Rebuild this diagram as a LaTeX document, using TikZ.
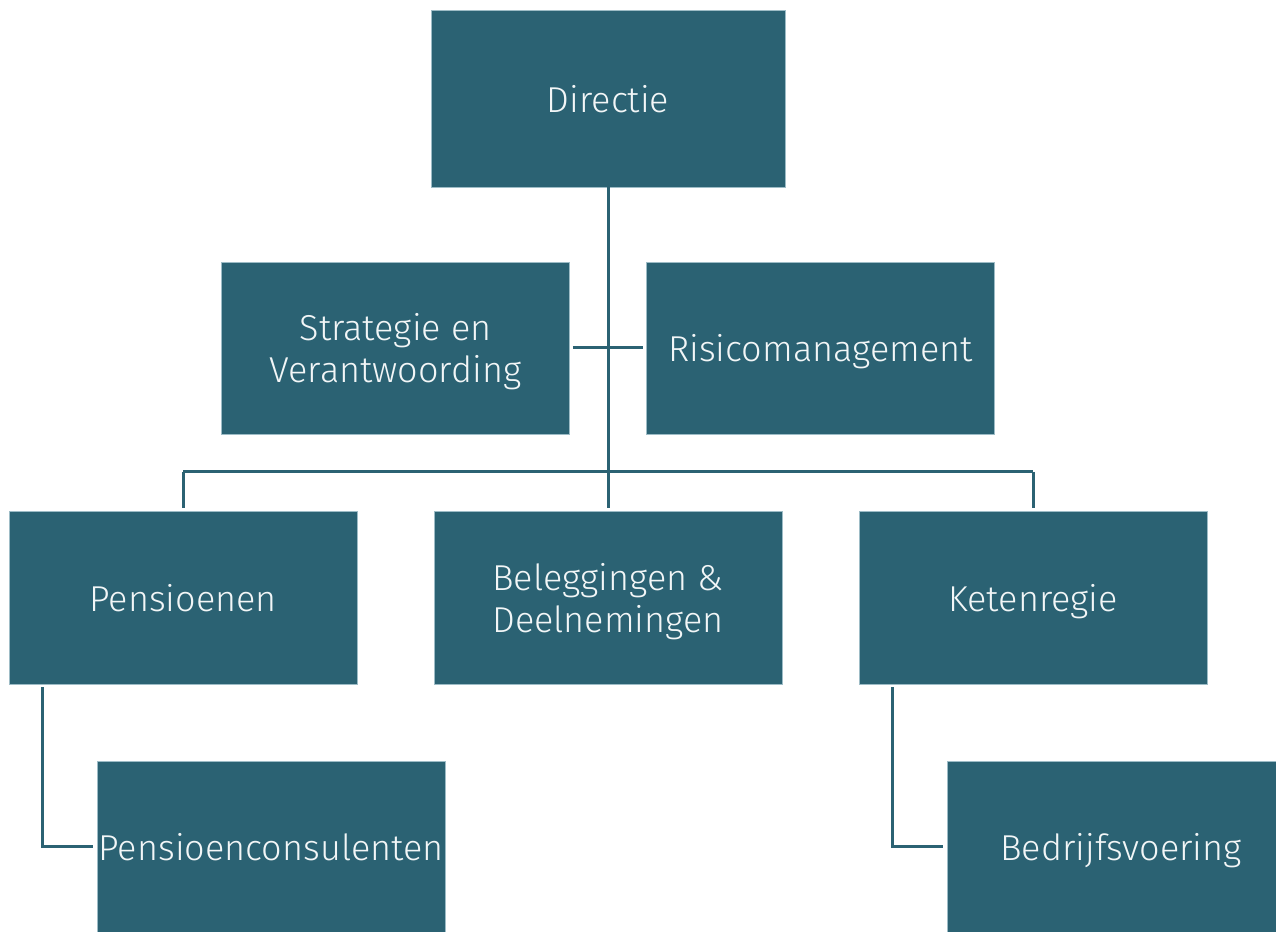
\documentclass[tikz,border=0pt]{standalone}
\usepackage{fontspec}
\setmainfont{Fira Sans}[UprightFont={* Light}]
\definecolor{boxc}{HTML}{2B6273}
\definecolor{edgec}{HTML}{9DBCC6}
\definecolor{txtc}{HTML}{F2F6F7}
\begin{document}
\begin{tikzpicture}[x=1pt,y=1pt,
  box/.style={rectangle, fill=boxc, draw=edgec, line width=0.7pt, minimum width=348pt, minimum height=174pt,
    inner sep=0pt, text=txtc, align=center, text depth=0pt, font=\fontsize{36}{42}\selectfont},
  conn/.style={draw=boxc, line width=3pt}]
\useasboundingbox (0,0) rectangle (1276,931);
\clip (0,0) rectangle (1276,931);
\fill[white] (0,0) rectangle (1276,931);
% nodes (y = 931 - image y)
\node[box, minimum width=354pt, minimum height=177pt] (dir) at (608,832.5) {Directie};
\node[box, minimum height=172pt] (strat) at (395.5,583) {Strategie en\\Verantwoording};
\node[box, minimum height=172pt] (risk) at (820.5,583) {Risicomanagement};
\node[box, minimum height=173pt] (pen) at (183,333.5) {Pensioenen};
\node[box, minimum height=173pt] (bel) at (608,333.5) {Beleggingen \&\\Deelnemingen};
\node[box, minimum height=173pt] (ket) at (1033,333.5) {Ketenregie};
\node[box, minimum height=172pt] (pcons) at (271,84) {Pensioenconsulenten};
\node[box, minimum height=172pt] (bedr) at (1121,84) {Bedrijfsvoering};
% junction coordinates
\coordinate (jl) at (183,459);
\coordinate (jr) at (1033,459);
\coordinate (pc) at (42,84);
\coordinate (kc) at (892,84);
% connectors
\draw[conn, shorten >=3pt] (dir.south) -- (bel.north);
\draw[conn, shorten <=3pt, shorten >=3pt] (strat.east) -- (risk.west);
\draw[conn] (jl) -- (jr);
\draw[conn, shorten >=3pt] (jl) -- (pen.north);
\draw[conn, shorten >=3pt] (jr) -- (ket.north);
\draw[conn, shorten <=3pt, shorten >=4pt] (pen.south -| pc) -- (pc) -- (pcons.west);
\draw[conn, shorten <=3pt, shorten >=4pt] (ket.south -| kc) -- (kc) -- (bedr.west);
\end{tikzpicture}
\end{document}
